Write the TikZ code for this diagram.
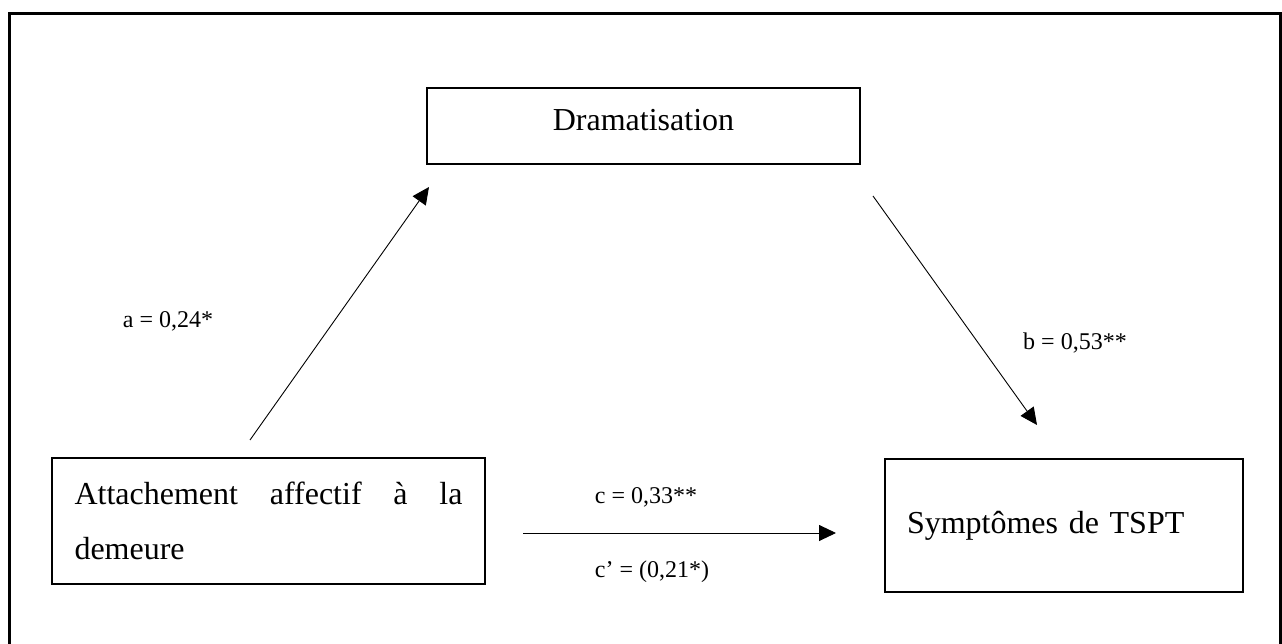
\documentclass[tikz,border=0pt]{standalone}
\usepackage{fontspec}
\setmainfont{Liberation Serif}
\usetikzlibrary{arrows.meta}

\begin{document}
\begin{tikzpicture}[x=1pt,y=-1pt]
            \tikzset{box/.style={draw, line width=1.5pt, inner sep=0pt, font=\fontsize{32}{55}\selectfont},
            coef/.style={inner sep=0pt, font=\fontsize{24}{28}\selectfont},
            arr/.style={line width=.9pt, -{Triangle[length=17pt,width=16pt]}}}

            \useasboundingbox (0,0) rectangle (1282,644);
            \draw[line width=3pt] (9,660) -- (9,14) -- (1280,14) -- (1280,660);

            \node[box, minimum width=433pt, minimum height=76pt, text depth=12pt] (dram) at (643.5,126) {Dramatisation};
            \node[box, minimum width=433pt, minimum height=126pt, text width=388pt, align=left] (att) at (268.5,521) {Attachement\hfill affectif\hfill à\hfill la\\demeure};
            \node[box, minimum width=358pt, minimum height=133pt, text width=314pt, align=left] (sym) at (1064,525.5) {Symptômes de TSPT};

            \coordinate (a-tail) at (250,440);
            \coordinate (a-head) at (429,187);
            \coordinate (b-tail) at (873,196);
            \coordinate (b-head) at (1037,425);
            \coordinate (c-tail) at (523,533);
            \coordinate (c-head) at (836,533);

            \draw[arr] (a-tail) -- (a-head);
            \draw[arr] (b-tail) -- (b-head);
            \draw[arr] (c-tail) -- (c-head);

            \node[coef] (a-lbl) at (168,321) {a = 0,24*};
            \node[coef] (b-lbl) at (1075,343) {b = 0,53**};
            \node[coef] (c-lbl) at (646,497) {c = 0,33**};
            \node[coef] (c2-lbl) at (652,572) {c’ = (0,21*)};
        \end{tikzpicture}
\end{document}
